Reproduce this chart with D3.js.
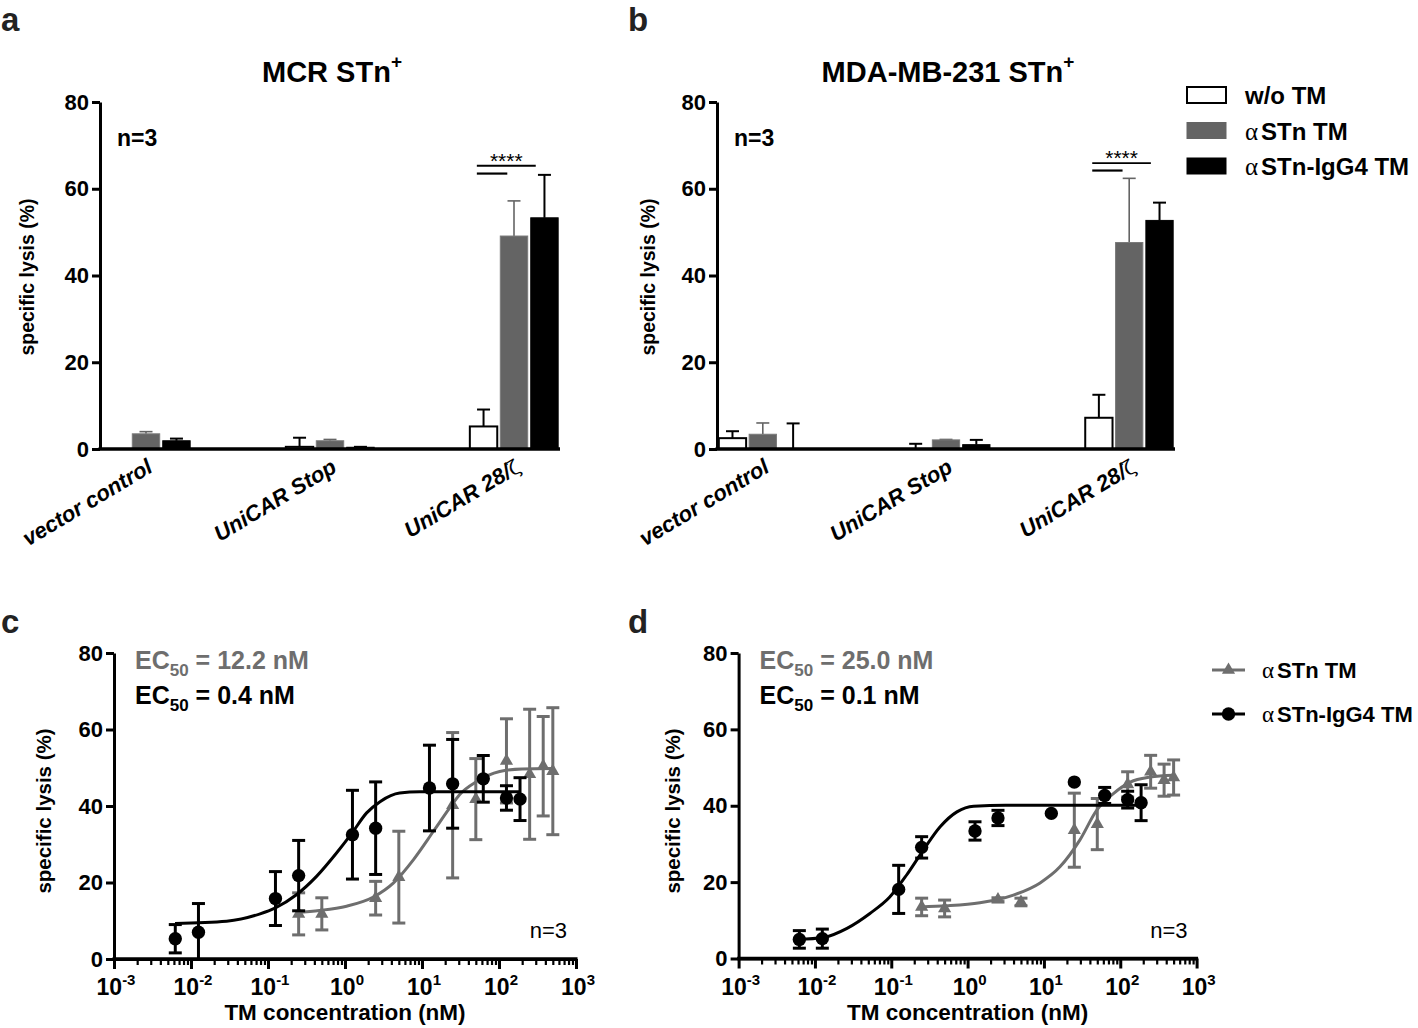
<!DOCTYPE html>
<html><head><meta charset="utf-8">
<script src="https://cdn.jsdelivr.net/npm/d3@7"></script>
<style>
body{margin:0;background:#fff}
svg{display:block}
text{font-family:"Liberation Sans",Arial,sans-serif}
</style></head>
<body><svg id="fig" width="1418" height="1028"></svg>
<script>
// ---------------- DATA ----------------
const categories = ["vector control", "UniCAR Stop", "UniCAR 28/ζ"];
const barSeries = ["w/o TM", "αSTn TM", "αSTn-IgG4 TM"];
const yTicks = [0, 20, 40, 60, 80];

// panel a: MCR STn+
const aWithout = [0, 0.5, 5.2];
const aWithoutErr = [0, 2.1, 3.9];
const aStn = [3.5, 1.9, 49.1];
const aStnErr = [0.5, 0.3, 8.1];
const aIgG4 = [1.9, 0.4, 53.3];
const aIgG4Err = [0.5, 0.1, 9.9];
const aSig = [65.3, 63.5];   // long / short bracket levels (%)

// panel b: MDA-MB-231 STn+
const bWithout = [2.5, 0, 7.2];
const bWithoutErr = [1.6, 1.2, 5.3];
const bStn = [3.4, 2.1, 47.6];
const bStnErr = [2.6, 0.1, 14.8];
const bIgG4 = [0, 1.0, 52.7];
const bIgG4Err = [5.9, 1.1, 4.1];
const bSig = [65.9, 64.2];

// dose-response
const xTickExps = [-3, -2, -1, 0, 1, 2, 3];
const cIgG4Conc = [0.00625, 0.0125, 0.125, 0.25, 1.25, 2.5, 12.5, 25, 62.5, 125, 187.5];
const cIgG4 = [5.3, 7.0, 15.8, 21.8, 32.5, 34.2, 44.7, 45.8, 47.1, 42.1, 41.8];
const cIgG4Err = [3.7, 7.5, 7.05, 9.2, 11.6, 12.1, 11.2, 11.6, 6.1, 3.2, 5.6];
const cStnConc = [0.25, 0.5, 2.5, 5, 25, 50, 125, 250, 375, 500];
const cStn = [11.8, 11.8, 15.9, 21.4, 40.2, 41.8, 51.8, 48.3, 50.4, 49.1];
const cStnErr = [5.5, 4.2, 4.4, 12, 19, 10.6, 11, 17, 13, 16.6];
// fitted curves
const cIgG4FitX = [0.0062, 0.029, 0.079, 0.123, 0.234, 0.427, 0.776, 1.23, 1.91, 2.88, 5.13, 9.33, 40, 186];
const cIgG4FitY = [9.3, 9.9, 11.8, 13.3, 16.8, 21.6, 27.7, 32.9, 38.2, 41.2, 43.4, 43.7, 43.7, 43.7];
const cStnFitX = [0.234, 0.468, 1.05, 2.34, 4.27, 7.76, 14.1, 22.9, 30.9, 51.3, 102, 200, 500];
const cStnFitY = [12.2, 12.7, 13.8, 16.2, 19.9, 26.0, 33.4, 39.5, 43.0, 46.4, 49.0, 49.7, 49.8];
const cEC50 = ["12.2", "0.4"];

const dIgG4Conc = [0.00625, 0.0125, 0.125, 0.25, 1.25, 2.5, 12.5, 25, 62.5, 125, 187.5];
const dIgG4 = [5.0, 5.2, 18.1, 29.1, 33.4, 36.8, 38.0, 46.2, 42.7, 41.6, 40.8];
const dIgG4Err = [2.3, 2.5, 6.3, 2.8, 2.4, 2.0, 0, 0, 2.1, 2.2, 4.7];
const dStnConc = [0.25, 0.5, 2.5, 5, 25, 50, 125, 250, 375, 500];
const dStn = [13.5, 13.1, 15.4, 14.8, 33.6, 35.2, 45.6, 48.9, 46.7, 47.4];
const dStnErr = [2.3, 2.2, 0.5, 1.0, 9.7, 6.7, 3.3, 4.3, 4.2, 4.6];
const dIgG4FitX = [0.006, 0.0129, 0.0263, 0.0525, 0.0955, 0.158, 0.263, 0.437, 0.724, 1.2, 3.16, 190];
const dIgG4FitY = [5.0, 5.5, 7.9, 11.8, 16.1, 21.8, 28.4, 34.5, 38.4, 39.9, 40.1, 40.1];
const dStnFitX = [0.24, 0.537, 1.45, 3.98, 8.91, 16.2, 29.5, 49, 81.3, 135, 245, 500];
const dStnFitY = [13.5, 13.8, 14.6, 16.6, 19.8, 24.0, 31.0, 38.8, 43.2, 46.2, 47.5, 48.0];
const dEC50 = ["25.0", "0.1"];

// ---------------- STYLE ----------------
const GRAY = "#646464";
const LGRAY = "#6e6e6e";
const svg = d3.select("#fig");

function styleAxis(g, w) {
  g.select(".domain").attr("stroke", "#000").attr("stroke-width", w);
  g.selectAll(".tick line").attr("stroke", "#000").attr("stroke-width", w);
}

function panelLetter(t, x, y) {
  svg.append("text").attr("x", x).attr("y", y).attr("font-size", 33)
    .attr("font-weight", "bold").attr("fill", "#222").text(t);
}

function yLabel(x, y, size) {
  svg.append("text").attr("transform", `translate(${x},${y}) rotate(-90)`)
    .attr("text-anchor", "middle").attr("font-size", size).attr("font-weight", "bold")
    .text("specific lysis (%)");
}

// ---------------- BAR PANELS ----------------
function barPanel(L, title, series, sig) {
  const g = svg.append("g");
  const x = d3.scaleBand().domain(categories).range([L.x0, L.x1]).paddingInner(0.52).paddingOuter(0.01);
  const xi = d3.scaleBand().domain(barSeries).range([0, x.bandwidth()]).paddingInner(0.1);
  const y = d3.scaleLinear().domain([0, 80]).range([L.yb, L.yt]);

  series.forEach((s, si) => {
    categories.forEach((c, ci) => {
      const bx = x(c) + xi(barSeries[si]);
      const v = s.vals[ci], e = s.errs[ci];
      if (e > 0) {
        const cx = bx + xi.bandwidth() / 2;
        g.append("line").attr("x1", cx).attr("x2", cx).attr("y1", y(v)).attr("y2", y(v + e))
          .attr("stroke", s.err).attr("stroke-width", s.ew);
        g.append("line").attr("x1", cx - 6.5).attr("x2", cx + 6.5).attr("y1", y(v + e)).attr("y2", y(v + e))
          .attr("stroke", s.err).attr("stroke-width", s.ew);
      }
      if (v > 0) {
        g.append("rect").attr("x", bx).attr("width", xi.bandwidth())
          .attr("y", y(v)).attr("height", y(0) - y(v))
          .attr("fill", s.fill).attr("stroke", s.stroke).attr("stroke-width", s.sw);
      }
    });
  });

  // axes
  const ya = g.append("g").attr("transform", `translate(${L.x0},0)`)
    .call(d3.axisLeft(y).tickValues(yTicks).tickSize(8).tickPadding(3).tickSizeOuter(0));
  styleAxis(ya, 3);
  ya.selectAll("text").attr("font-size", 22).attr("font-weight", "bold").attr("fill", "#000");
  g.append("line").attr("x1", L.x0 - 1.5).attr("x2", L.x1).attr("y1", L.yb).attr("y2", L.yb)
    .attr("stroke", "#000").attr("stroke-width", 3.5);

  // category labels
  categories.forEach(c => {
    const cx = x(c) + x.bandwidth() / 2 + 8;
    const t = g.append("text").attr("transform", `translate(${cx},${L.yb + 22}) rotate(-31)`)
      .attr("text-anchor", "end").attr("font-size", 22).attr("font-weight", "bold")
      .attr("font-style", "italic");
    if (c.endsWith("ζ")) {
      t.append("tspan").text(c.slice(0, -1));
      t.append("tspan").attr("font-family", "DejaVu Serif").attr("font-weight", "normal")
        .attr("font-style", "normal").attr("font-size", 20).text("ζ");
    } else t.text(c);
  });

  // title
  const tt = g.append("text").attr("x", (L.x0 + L.x1) / 2 + 2).attr("y", 82)
    .attr("text-anchor", "middle").attr("font-size", 29).attr("font-weight", "bold");
  tt.append("tspan").text(title);
  tt.append("tspan").attr("dy", -14).attr("font-size", 19).text("+");

  g.append("text").attr("x", L.x0 + 17).attr("y", 146).attr("font-size", 23)
    .attr("font-weight", "bold").text("n=3");

  // significance
  const last = categories[2];
  const wx = x(last) + xi(barSeries[0]), gx = x(last) + xi(barSeries[1]), kx = x(last) + xi(barSeries[2]);
  const xs = wx + 7, xl = kx + 5, xsh = gx + 7;
  g.append("line").attr("x1", xs).attr("x2", xl).attr("y1", y(sig[0])).attr("y2", y(sig[0]))
    .attr("stroke", "#000").attr("stroke-width", 1.8);
  g.append("line").attr("x1", xs).attr("x2", xsh).attr("y1", y(sig[1])).attr("y2", y(sig[1]))
    .attr("stroke", "#000").attr("stroke-width", 2.2);
  g.append("text").attr("x", (xs + xl) / 2).attr("y", y(sig[0]) + 2).attr("text-anchor", "middle")
    .attr("font-size", 21).text("****");
  return {x, y};
}

const barStyles = [
  {fill: "#fff", stroke: "#000", sw: 2, err: "#000", ew: 2},
  {fill: GRAY, stroke: "#7a7a7a", sw: 1, err: GRAY, ew: 1.6},
  {fill: "#000", stroke: "#000", sw: 1, err: "#000", ew: 2}
];

barPanel({x0: 100, x1: 560, yt: 102, yb: 449}, "MCR STn", [
  Object.assign({vals: aWithout, errs: aWithoutErr}, barStyles[0]),
  Object.assign({vals: aStn, errs: aStnErr}, barStyles[1]),
  Object.assign({vals: aIgG4, errs: aIgG4Err}, barStyles[2])
], aSig);
barPanel({x0: 717, x1: 1175, yt: 102, yb: 449}, "MDA-MB-231 STn", [
  Object.assign({vals: bWithout, errs: bWithoutErr}, barStyles[0]),
  Object.assign({vals: bStn, errs: bStnErr}, barStyles[1]),
  Object.assign({vals: bIgG4, errs: bIgG4Err}, barStyles[2])
], bSig);

panelLetter("a", 1, 31);
panelLetter("b", 628, 31);
yLabel(34, 277, 19.5);
yLabel(655, 277, 19.5);

// bar legend
barSeries.forEach((name, i) => {
  const yy = 87 + i * 35.5;
  const st = barStyles[i];
  svg.append("rect").attr("x", 1187).attr("y", yy).attr("width", 39).attr("height", 16)
    .attr("fill", st.fill).attr("stroke", i === 0 ? "#000" : st.fill).attr("stroke-width", i === 0 ? 2 : 1);
  const t = svg.append("text").attr("x", 1245).attr("y", yy + 17).attr("font-size", 24).attr("font-weight", "bold");
  if (name.startsWith("α")) {
    t.append("tspan").attr("font-family", "Liberation Serif").attr("font-weight", "normal").attr("font-size", 25).text("α");
    t.append("tspan").attr("dx", 3).text(name.slice(1));
  } else t.text(name);
});

// ---------------- DOSE-RESPONSE PANELS ----------------
function drPanel(L, black, gray, ec50) {
  const g = svg.append("g");
  const x = d3.scaleLog().domain([1e-3, 1e3]).range([L.x0, L.x1]);
  const y = d3.scaleLinear().domain([0, 80]).range([L.yb, L.yt]);
  const line = d3.line().x(d => x(d[0])).y(d => y(d[1])).curve(d3.curveMonotoneX);

  [gray, black].forEach(s => {
    const pts = s.fitX.map((v, i) => [v, s.fitY[i]]);
    g.append("path").attr("d", line(pts)).attr("fill", "none").attr("stroke", s.color).attr("stroke-width", 3);
    s.conc.forEach((c, i) => {
      const cx = x(c), v = s.vals[i], e = s.errs[i];
      if (e > 0) {
        const lo = Math.max(0, v - e), hi = v + e;
        g.append("line").attr("x1", cx).attr("x2", cx).attr("y1", y(lo)).attr("y2", y(hi))
          .attr("stroke", s.color).attr("stroke-width", 3);
        [hi, lo].forEach(b => {
          if (b > 0) g.append("line").attr("x1", cx - 6.5).attr("x2", cx + 6.5).attr("y1", y(b)).attr("y2", y(b))
            .attr("stroke", s.color).attr("stroke-width", 3);
        });
      }
      g.append("path").attr("transform", `translate(${cx},${y(v)})`)
        .attr("d", d3.symbol(s.symbol, s.size)()).attr("fill", s.color);
    });
  });

  const ya = g.append("g").attr("transform", `translate(${L.x0},0)`)
    .call(d3.axisLeft(y).tickValues(yTicks).tickSize(8).tickPadding(3).tickSizeOuter(0));
  styleAxis(ya, 3);
  ya.selectAll("text").attr("font-size", 22).attr("font-weight", "bold").attr("fill", "#000");

  const minors = [];
  for (let e = -3; e < 3; e++) for (let m = 2; m <= 9; m++) minors.push(m * 10 ** e);
  const xm = g.append("g").attr("transform", `translate(0,${L.yb})`)
    .call(d3.axisBottom(x).tickValues(minors).tickSize(6).tickFormat("").tickSizeOuter(0));
  styleAxis(xm, 2.2);
  xm.select(".domain").remove();
  const xa = g.append("g").attr("transform", `translate(0,${L.yb})`)
    .call(d3.axisBottom(x).tickValues(xTickExps.map(e => 10 ** e)).tickSize(10).tickFormat("").tickSizeOuter(0));
  styleAxis(xa, 3);
  g.append("line").attr("x1", L.x0 - 1.5).attr("x2", L.x1 + 1.5).attr("y1", L.yb).attr("y2", L.yb)
    .attr("stroke", "#000").attr("stroke-width", 3.5);

  xTickExps.forEach(e => {
    const t = g.append("text").attr("x", x(10 ** e) + 2).attr("y", L.yb + 36).attr("text-anchor", "middle")
      .attr("font-size", 23).attr("font-weight", "bold");
    t.append("tspan").text("10");
    t.append("tspan").attr("dy", -10).attr("font-size", 15).text(String(e));
  });
  g.append("text").attr("x", (L.x0 + L.x1) / 2).attr("y", L.yb + 61).attr("text-anchor", "middle")
    .attr("font-size", 22.5).attr("font-weight", "bold").text("TM concentration (nM)");

  ec50.forEach((val, i) => {
    const t = g.append("text").attr("x", L.x0 + 21).attr("y", 669 + i * 35)
      .attr("font-size", 25).attr("font-weight", "bold").attr("fill", i === 0 ? LGRAY : "#000");
    t.append("tspan").text("EC");
    t.append("tspan").attr("dy", 7).attr("font-size", 17).text("50");
    t.append("tspan").attr("dy", -7).text(` = ${val} nM`);
  });
  g.append("text").attr("x", L.x1 - 9).attr("y", 938).attr("text-anchor", "end")
    .attr("font-size", 22).text("n=3");
}

const grayStyle = {color: LGRAY, symbol: d3.symbolTriangle, size: 75};
const blackStyle = {color: "#000", symbol: d3.symbolCircle, size: 140};

drPanel({x0: 114, x1: 576, yt: 653, yb: 959},
  Object.assign({conc: cIgG4Conc, vals: cIgG4, errs: cIgG4Err, fitX: cIgG4FitX, fitY: cIgG4FitY}, blackStyle),
  Object.assign({conc: cStnConc, vals: cStn, errs: cStnErr, fitX: cStnFitX, fitY: cStnFitY}, grayStyle),
  cEC50);
drPanel({x0: 738.6, x1: 1196.6, yt: 653, yb: 958.5},
  Object.assign({conc: dIgG4Conc, vals: dIgG4, errs: dIgG4Err, fitX: dIgG4FitX, fitY: dIgG4FitY}, blackStyle),
  Object.assign({conc: dStnConc, vals: dStn, errs: dStnErr, fitX: dStnFitX, fitY: dStnFitY}, grayStyle),
  dEC50);

panelLetter("c", 1, 633);
panelLetter("d", 628, 633);
yLabel(51, 811, 20.5);
yLabel(680, 811, 20.5);

// dose-response legend
const drLegend = ["αSTn TM", "αSTn-IgG4 TM"];
[grayStyle, blackStyle].forEach((st, i) => {
  const yy = 670 + i * 44;
  svg.append("line").attr("x1", 1212).attr("x2", 1245).attr("y1", yy).attr("y2", yy)
    .attr("stroke", st.color).attr("stroke-width", 3);
  svg.append("path").attr("transform", `translate(1228.5,${yy})`)
    .attr("d", d3.symbol(st.symbol, st.size)()).attr("fill", st.color);
  const t = svg.append("text").attr("x", 1262).attr("y", yy + 8).attr("font-size", 22).attr("font-weight", "bold");
  t.append("tspan").attr("font-family", "Liberation Serif").attr("font-weight", "normal").attr("font-size", 23).text("α");
  t.append("tspan").attr("dx", 3).text(drLegend[i].slice(1));
});
</script>
</body></html>
